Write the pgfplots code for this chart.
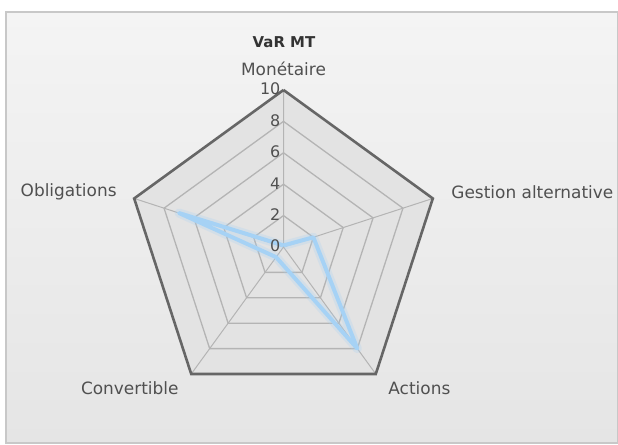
\documentclass[border=0pt]{standalone}
\usepackage{fontspec}
\setmainfont{DejaVu Sans}
\usepackage{pgfplots}
\pgfplotsset{compat=1.18}
\usepgfplotslibrary{polar}

\definecolor{frame}{HTML}{C8C8C8}
\definecolor{bgtop}{HTML}{F4F4F4}
\definecolor{bgbot}{HTML}{E5E5E5}
\definecolor{webfill}{HTML}{E3E3E3}
\definecolor{outer}{HTML}{666666}
\definecolor{ring}{HTML}{B4B4B4}
\definecolor{serie}{HTML}{A6D2F5}
\definecolor{txt}{HTML}{505050}

\tikzset{
  catlbl/.style={font=\fontsize{17}{19}\selectfont, text=txt, inner sep=0pt},
  ticklbl/.style={font=\fontsize{16}{18}\selectfont, text=txt, inner sep=0pt, anchor=east, xshift=-3bp, yshift=1bp},
}

\begin{document}
\begin{tikzpicture}[x=1bp,y=1bp]
% page and panel
\path[use as bounding box,fill=white] (0,0) rectangle (618,445);
\shade[top color=bgtop,bottom color=bgbot,draw=frame,line width=1.2bp] (6,2) rectangle (617.4,433);

\begin{polaraxis}[
  hide axis, scale only axis,
  width=314bp, height=314bp,
  xmin=0, xmax=360, ymin=0, ymax=10,
  at={(283.5bp,198bp)}, anchor=center,
  clip=false,
  every axis plot/.append style={mark=none},
]
% background of the web
\addplot[draw=none,fill=webfill] coordinates {(90,10) (18,10) (306,10) (234,10) (162,10) (90,10)};
% rings
\addplot[ring,line width=1.3bp] coordinates {(90,2) (18,2) (306,2) (234,2) (162,2) (90,2)};
\addplot[ring,line width=1.3bp] coordinates {(90,4) (18,4) (306,4) (234,4) (162,4) (90,4)};
\addplot[ring,line width=1.3bp] coordinates {(90,6) (18,6) (306,6) (234,6) (162,6) (90,6)};
\addplot[ring,line width=1.3bp] coordinates {(90,8) (18,8) (306,8) (234,8) (162,8) (90,8)};
% spokes
\addplot[ring,line width=1bp] coordinates {(90,10) (0,0) (18,10) (0,0) (306,10) (0,0) (234,10) (0,0) (162,10)};
% outer border
\addplot[outer,line width=2.6bp,line join=miter] coordinates {(90,10) (18,10) (306,10) (234,10) (162,10) (90,10)};

% series
\addplot[serie,line width=9bp,opacity=0.25,line join=round] coordinates {(90,0.1) (18,2) (306,8) (234,0.8) (162,7) (90,0.1)};
\addplot[serie,line width=4bp,line join=round] coordinates {(90,0.1) (18,2) (306,8) (234,0.8) (162,7) (90,0.1)};

% radial tick labels
\node[ticklbl] at (axis cs:90,0) {0};
\node[ticklbl] at (axis cs:90,2) {2};
\node[ticklbl] at (axis cs:90,4) {4};
\node[ticklbl] at (axis cs:90,6) {6};
\node[ticklbl] at (axis cs:90,8) {8};
\node[ticklbl] at (axis cs:90,10) {10};

% category labels
\node[catlbl,anchor=base] at (axis cs:90,10.9) {Monétaire};
\node[catlbl,anchor=west,xshift=-1bp] at (axis cs:18,11.3) {Gestion alternative};
\node[catlbl,anchor=north west,xshift=6bp,yshift=1bp] at (axis cs:306,10.7) {Actions};
\node[catlbl,anchor=north east,xshift=-6bp,yshift=1bp] at (axis cs:234,10.7) {Convertible};
\node[catlbl,anchor=east,xshift=2bp] at (axis cs:162,11.3) {Obligations};
\end{polaraxis}

\node[font=\bfseries\fontsize{15}{17}\selectfont,text=black!80] at (284,403) {VaR MT};
\end{tikzpicture}
\end{document}
